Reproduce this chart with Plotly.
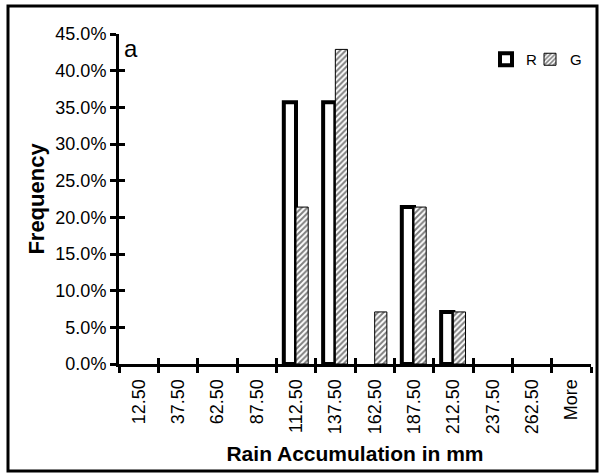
import plotly.graph_objects as go

categories = ["12.50", "37.50", "62.50", "87.50", "112.50", "137.50", "162.50",
              "187.50", "212.50", "237.50", "262.50", "More"]
r_values = [0, 0, 0, 0, 0.357, 0.357, 0, 0.214, 0.071, 0, 0, 0]
g_values = [0, 0, 0, 0, 0.214, 0.429, 0.071, 0.214, 0.071, 0, 0, 0]
y_ticks = [0, 0.05, 0.10, 0.15, 0.20, 0.25, 0.30, 0.35, 0.40, 0.45]

FONT = "Liberation Sans, Arial, Helvetica, sans-serif"

def visible(vals):
    # zero-height bars are not drawn (no outline stub on the axis)
    return [v if v > 0 else None for v in vals]

fig = go.Figure()
fig.add_trace(go.Bar(
    x=categories, y=visible(r_values), name="R", legend="legend",
    marker=dict(color="white", line=dict(color="black", width=4)),
))
fig.add_trace(go.Bar(
    x=categories, y=visible(g_values), name="G", legend="legend2",
    marker=dict(color="white", line=dict(color="black", width=1),
                pattern=dict(shape="/", fgcolor="black", bgcolor="white",
                             size=4, solidity=0.5)),
))

L, R, T, B = 119, 9, 34, 112
W, H = 600, 476
pw, ph = W - L - R, H - T - B

leg_common = dict(orientation="h", xanchor="left", yanchor="top",
                  font=dict(size=15), bgcolor="rgba(0,0,0,0)",
                  itemwidth=30, tracegroupgap=0)

fig.update_layout(
    width=W, height=H,
    margin=dict(l=L, r=R, t=T, b=B),
    paper_bgcolor="white", plot_bgcolor="white",
    barmode="group", bargap=0.38, bargroupgap=0,
    font=dict(family=FONT, color="black", size=15),
    showlegend=True,
    legend=dict(x=(486 - L) / pw, y=(364 - 43) / ph, **leg_common),
    legend2=dict(x=(530 - L) / pw, y=(364 - 43) / ph, **leg_common),
    xaxis=dict(
        type="category", categoryorder="array", categoryarray=categories,
        showline=True, linecolor="black", linewidth=3,
        ticks="outside", ticklen=6, tickwidth=3, tickcolor="black",
        tickson="boundaries", tickangle=-90, ticklabelstandoff=5,
        tickfont=dict(size=18), showgrid=False, zeroline=False,
        title=dict(text="<b>Rain Accumulation in mm</b>", font=dict(size=21), standoff=14),
        range=[-0.5, 11.5],
    ),
    yaxis=dict(
        range=[0, 0.45], tickvals=y_ticks, tickformat=".1%",
        showline=True, linecolor="black", linewidth=3,
        ticks="outside", ticklen=6, tickwidth=3, tickcolor="black",
        tickfont=dict(size=18), showgrid=False, zeroline=False,
        title=dict(text="<b>Frequency</b>", font=dict(size=22), standoff=5),
    ),
    yaxis2=dict(
        range=[0, 0.45], tickvals=y_ticks, overlaying="y", side="left",
        showticklabels=False, ticks="inside", ticklen=6, tickwidth=3,
        tickcolor="black", showgrid=False, zeroline=False, showline=False,
    ),
    xaxis2=dict(
        type="category", categoryorder="array", categoryarray=categories,
        overlaying="x", range=[-0.5, 11.5], showticklabels=False,
        ticks="inside", ticklen=6, tickwidth=3, tickcolor="black",
        tickson="boundaries", showgrid=False, zeroline=False, showline=False,
    ),
)

# invisible trace to activate secondary axes
fig.add_trace(go.Scatter(x=[categories[0]], y=[0], xaxis="x2", yaxis="y2",
                         mode="markers", marker=dict(opacity=0),
                         showlegend=False, hoverinfo="skip"))

fig.add_annotation(text="a", xref="paper", yref="paper",
                   x=(122 - L) / pw, y=(364 - 33) / ph, xanchor="left", yanchor="top",
                   showarrow=False, font=dict(size=24, family=FONT))

# outer frame around the whole figure
fig.add_shape(type="rect", xref="paper", yref="paper",
              x0=(8 - L) / pw, x1=(597 - L) / pw,
              y0=(364 - 471) / ph, y1=(364 - 6) / ph,
              line=dict(color="black", width=3), layer="above")

fig.write_html("out.html", config={"displayModeBar": False},
               post_script="document.body.style.margin='0';")
